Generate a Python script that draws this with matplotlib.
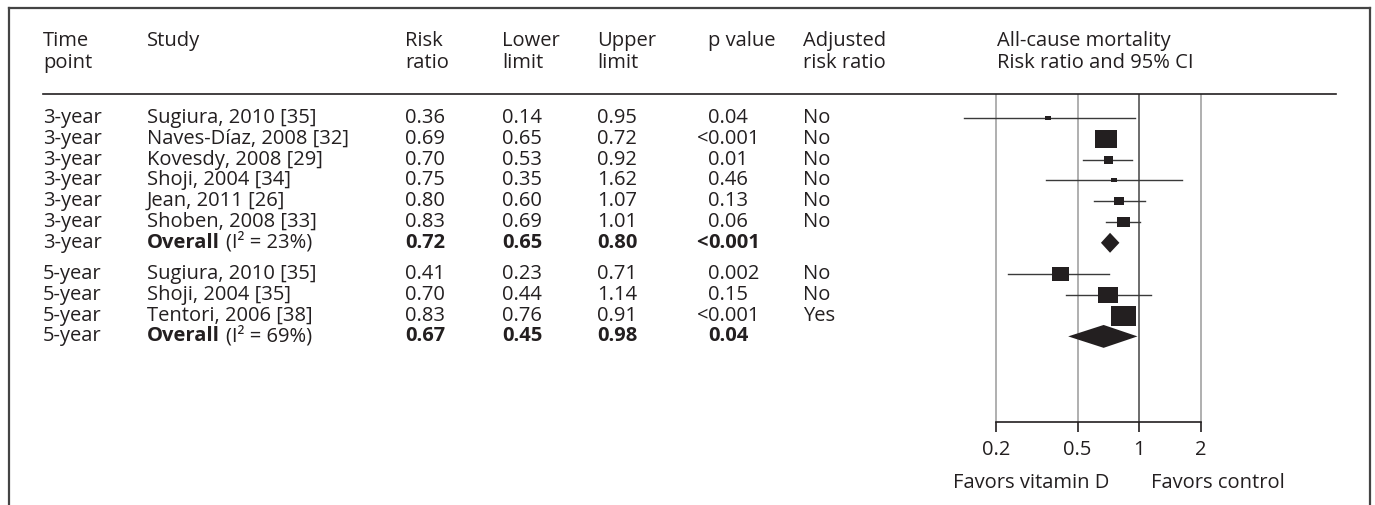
import matplotlib.pyplot as plt
import matplotlib.transforms as mtransforms
from matplotlib.lines import Line2D
import numpy as np

plt.rcParams['font.family'] = ['Open Sans', 'DejaVu Sans']

# data
time_points = ['3-year'] * 7 + ['5-year'] * 4
studies = ['Sugiura, 2010 [35]', 'Naves-Díaz, 2008 [32]', 'Kovesdy, 2008 [29]',
           'Shoji, 2004 [34]', 'Jean, 2011 [26]', 'Shoben, 2008 [33]', 'Overall',
           'Sugiura, 2010 [35]', 'Shoji, 2004 [35]', 'Tentori, 2006 [38]', 'Overall']
heterogeneity = {6: '(I² = 23%)', 10: '(I² = 69%)'}
risk_ratio = [0.36, 0.69, 0.70, 0.75, 0.80, 0.83, 0.72, 0.41, 0.70, 0.83, 0.67]
lower = [0.14, 0.65, 0.53, 0.35, 0.60, 0.69, 0.65, 0.23, 0.44, 0.76, 0.45]
upper = [0.95, 0.72, 0.92, 1.62, 1.07, 1.01, 0.80, 0.71, 1.14, 0.91, 0.98]
p_values = ['0.04', '<0.001', '0.01', '0.46', '0.13', '0.06', '<0.001',
            '0.002', '0.15', '<0.001', '0.04']
adjusted = ['No', 'No', 'No', 'No', 'No', 'No', '',
            'No', 'No', 'Yes', '']
is_overall = [False] * 6 + [True] + [False] * 3 + [True]
box_weight = [32, 484, 81, 36, 100, 169, 0, 289, 400, 625, 0]
xticks = [0.2, 0.5, 1, 2]

W, H = 1375, 505
INK = '#231f20'
FS = 14.5

fig = plt.figure(figsize=(W / 100, H / 100), dpi=100)

def fx(px):
    return px / W

def fy(py):
    return 1 - py / H

# row positions, half-row gap between groups
ypos = []
y = 0.0
for i, tp in enumerate(time_points):
    if i > 0 and tp != time_points[i - 1]:
        y += 0.5
    ypos.append(y)
    y += 1

# forest axes: 0.2 -> 996px, 2 -> 1201px ; rows 118px + 20.8px
ppl = 205 / np.log(10)
x0 = 996 - ppl * np.log(0.2 / 0.1)
x1 = 1201 + ppl * np.log(4 / 2)
top_px, bot_px = 94, 422
ax = fig.add_axes([fx(x0), fy(bot_px), (x1 - x0) / W, (bot_px - top_px) / H])
ax.set_xscale('log')
ax.set_xlim(0.1, 4)
row_h = 20.8
ax.set_ylim((bot_px - 118) / row_h, -(118 - top_px) / row_h)
ax.patch.set_alpha(0)
for s in ['top', 'left', 'right']:
    ax.spines[s].set_visible(False)
ax.spines['bottom'].set_bounds(0.2, 2)
ax.spines['bottom'].set_linewidth(1.2)
ax.spines['bottom'].set_color(INK)
ax.set_xticks(xticks)
ax.set_xticklabels(['0.2', '0.5', '1', '2'])
ax.xaxis.set_minor_locator(plt.NullLocator())
ax.tick_params(axis='x', direction='out', length=7, width=1.2, color=INK,
               labelsize=FS, labelcolor=INK, pad=6)
ax.set_yticks([])

for t in xticks:
    ax.axvline(t, color='#444444' if t == 1 else '#9a9a9a', lw=1.1, zorder=1)

box_shape = [(-1, -0.82), (1, -0.82), (1, 0.82), (-1, 0.82), (-1, -0.82)]
for i in range(len(studies)):
    yy = ypos[i]
    if is_overall[i]:
        h = 0.48 if i < 7 else 0.55
        ax.fill([lower[i], risk_ratio[i], upper[i], risk_ratio[i]],
                [yy, yy - h, yy, yy + h], color=INK, lw=0, zorder=3)
    else:
        ax.plot([lower[i], upper[i]], [yy, yy], color='#3a3a3a', lw=1.0, zorder=2)
        ms = np.sqrt(box_weight[i]) * 0.72
        ax.plot(risk_ratio[i], yy, marker=box_shape, markersize=ms,
                color=INK, mec=INK, mew=0, ls='none', zorder=3)

# table text
tr = mtransforms.blended_transform_factory(fig.transFigure, ax.transData)
for i in range(len(studies)):
    yy = ypos[i]
    wt = 'bold' if is_overall[i] else 'normal'
    kw = dict(transform=tr, va='center', fontsize=FS, color=INK)
    fig.text(fx(43), yy, time_points[i], **kw)
    t = fig.text(fx(147), yy, studies[i], fontweight=wt, **kw)
    if i in heterogeneity:
        ax.annotate(heterogeneity[i], xy=(1, 0), xycoords=t,
                    xytext=(6, 0), textcoords='offset pixels',
                    va='bottom', fontsize=FS, color=INK, annotation_clip=False)
    fig.text(fx(405), yy, '%.2f' % risk_ratio[i], fontweight=wt, **kw)
    fig.text(fx(502), yy, '%.2f' % lower[i], fontweight=wt, **kw)
    fig.text(fx(597), yy, '%.2f' % upper[i], fontweight=wt, **kw)
    pv = p_values[i]
    if pv.startswith('<'):
        fig.text(fx(708), yy, '<', fontweight=wt, ha='right', **kw)
        pv = pv[1:]
    fig.text(fx(708), yy, pv, fontweight=wt, **kw)
    fig.text(fx(803), yy, adjusted[i], **kw)

# headers
hkw = dict(va='center', fontsize=FS, color=INK)
headers = [(43, 'Time', 'point'), (147, 'Study', ''), (405, 'Risk', 'ratio'),
           (502, 'Lower', 'limit'), (597, 'Upper', 'limit'), (803, 'Adjusted', 'risk ratio'),
           (997, 'All-cause mortality', 'Risk ratio and 95% CI')]
for x, l1, l2 in headers:
    fig.text(fx(x), fy(41), l1, **hkw)
    fig.text(fx(x), fy(63), l2, **hkw)
fig.text(fx(775), fy(41), 'p value', ha='right', **hkw)

fig.text(fx(953), fy(483), 'Favors vitamin D', **hkw)
fig.text(fx(1151), fy(483), 'Favors control', **hkw)

# rules and frame
fig.add_artist(Line2D([fx(43), fx(1336)], [fy(94), fy(94)], color=INK, lw=1.2))
fig.add_artist(Line2D([fx(9), fx(1370)], [fy(8), fy(8)], color='#444444', lw=1.6))
fig.add_artist(Line2D([fx(9), fx(9)], [fy(8), 0], color='#444444', lw=1.6))
fig.add_artist(Line2D([fx(1370), fx(1370)], [fy(8), 0], color='#444444', lw=1.6))

fig.savefig('out.png', dpi=100, facecolor='white')
